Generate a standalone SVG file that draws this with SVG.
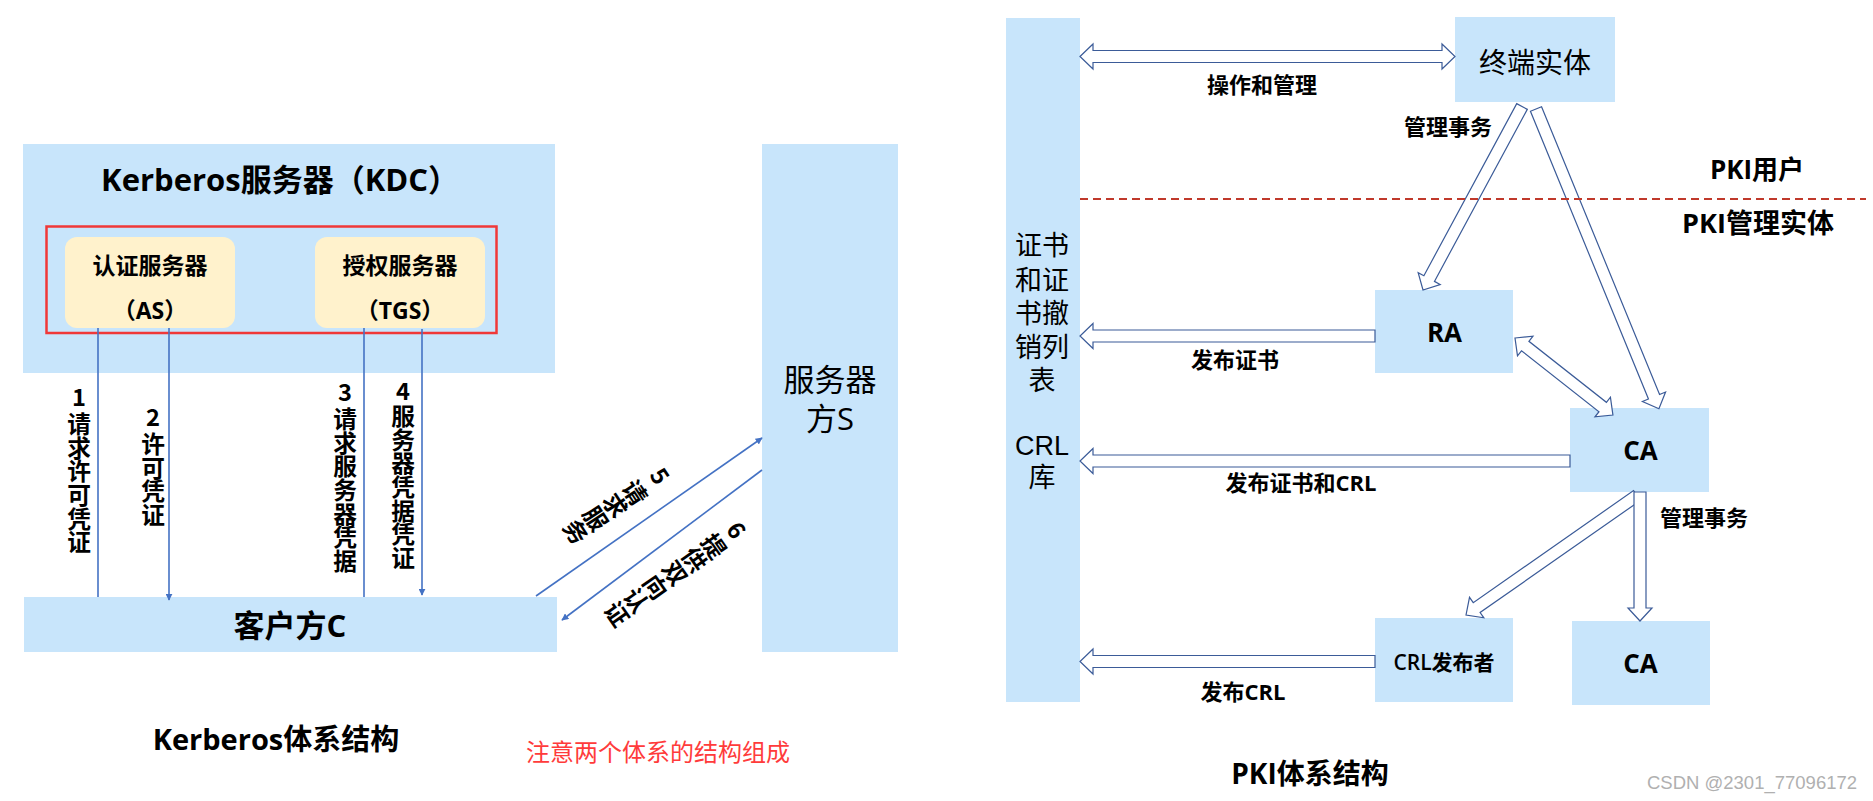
<svg xmlns="http://www.w3.org/2000/svg" width="1873" height="801" viewBox="0 0 1873 801">
<defs>
<style>
.box{fill:#c8e5fb;}
.sub{fill:#fff2cc;}
.t{font-family:"Open Sans","Noto Sans CJK SC",sans-serif;fill:#000;}
.r{font-family:"Liberation Sans","Noto Sans CJK SC",sans-serif;fill:#000;}
.b{font-weight:bold;}
.c{text-anchor:middle;}
.vl{font-family:"Noto Sans CJK SC","Open Sans",sans-serif;font-weight:bold;font-size:23.7px;writing-mode:vertical-rl;text-orientation:upright;}
.ln{stroke:#4472c4;stroke-width:1.6;fill:none;}
.ha{fill:#fff;stroke:#3b5b98;stroke-width:1.2;stroke-linejoin:miter;}
</style>
<marker id="ah" viewBox="0 0 10 10" refX="9" refY="5" markerWidth="7" markerHeight="7" markerUnits="userSpaceOnUse" orient="auto">
<path d="M0,0 L10,5 L0,10 Z" fill="#4472c4"/>
</marker>
</defs>
<rect width="1873" height="801" fill="#fff"/>

<!-- Kerberos side -->
<g id="kdc">
<rect class="box" x="23" y="144" width="532" height="229"/>
<text class="t b c" x="280" y="191" font-size="31">Kerberos服务器（KDC）</text>
<rect x="46.5" y="226.5" width="450" height="106.5" fill="none" stroke="#f03838" stroke-width="2.5"/>
</g>
<g id="as">
<rect class="sub" x="65" y="237" width="170" height="91" rx="12"/>
<text class="t b c" x="150" y="274" font-size="23">认证服务器</text>
<text class="t b c" x="150" y="319" font-size="23">（AS）</text>
</g>
<g id="tgs">
<rect class="sub" x="315" y="237" width="170" height="91" rx="12"/>
<text class="t b c" x="400" y="274" font-size="23">授权服务器</text>
<text class="t b c" x="400" y="319" font-size="23">（TGS）</text>
</g>
<g id="client">
<rect class="box" x="24" y="597" width="533" height="55"/>
<text class="t b c" x="290" y="637" font-size="31">客户方C</text>
</g>
<g id="server">
<rect class="box" x="762" y="144" width="136" height="508"/>
<text class="t c" x="830" y="391" font-size="31">服务器</text>
<text class="t c" x="830" y="430" font-size="31">方S</text>
</g>

<g id="kerberos-connectors">
<line class="ln" x1="98" y1="328" x2="98" y2="597"/>
<line class="ln" x1="169" y1="328" x2="169" y2="600" marker-end="url(#ah)"/>
<line class="ln" x1="364" y1="328" x2="364" y2="597"/>
<line class="ln" x1="422" y1="329" x2="422" y2="595" marker-end="url(#ah)"/>
<line class="ln" x1="536" y1="596" x2="762" y2="438" marker-end="url(#ah)"/>
<line class="ln" x1="762" y1="470" x2="562" y2="620" marker-end="url(#ah)"/>
</g>

<g id="kerberos-labels">
<text class="vl" x="79" y="385">1</text>
<text class="vl" x="79" y="412">请求许可凭证</text>
<text class="vl" x="153" y="404.7">2</text>
<text class="vl" x="153" y="432">许可凭证</text>
<text class="vl" x="345" y="380">3</text>
<text class="vl" x="345" y="407">请求服务器凭据</text>
<text class="vl" x="403" y="378.7">4</text>
<text class="vl" x="403" y="404">服务器凭据凭证</text>
<g transform="translate(660,476) rotate(56.6)">
<text class="vl" x="0" y="-11.85">5</text>
<text class="vl" x="0" y="18">请求服务</text>
</g>
<g transform="translate(736.7,530) rotate(55)">
<text class="vl" x="0" y="-11.85">6</text>
<text class="vl" x="0" y="16">提供双向认证</text>
</g>
</g>

<text class="t b c" x="276" y="750" font-size="29">Kerberos体系结构</text>
<text class="t c" x="658" y="761" font-size="24" style="fill:#ff3b3b">注意两个体系的结构组成</text>

<!-- PKI side -->
<g id="repository">
<rect class="box" x="1006" y="18" width="74" height="684"/>
<g class="r c" font-size="27">
<text x="1042" y="255">证书</text>
<text x="1042" y="290">和证</text>
<text x="1042" y="323">书撤</text>
<text x="1042" y="357">销列</text>
<text x="1042" y="390">表</text>
<text x="1042" y="455">CRL</text>
<text x="1042" y="487">库</text>
</g>
</g>
<g id="end-entity">
<rect class="box" x="1455" y="17" width="160" height="85"/>
<text class="t c" x="1535" y="73" font-size="28">终端实体</text>
</g>
<g id="ra">
<rect class="box" x="1375" y="290" width="138" height="83"/>
<text class="t b c" x="1444.5" y="342" font-size="26">RA</text>
</g>
<g id="ca">
<rect class="box" x="1570" y="408" width="139" height="84"/>
<text class="t b c" x="1640.5" y="460" font-size="26">CA</text>
</g>
<g id="crl-publisher">
<rect class="box" x="1375" y="618" width="138" height="84"/>
<text class="t c" x="1444" y="670" font-size="21" font-weight="600">CRL发布者</text>
</g>
<g id="ca2">
<rect class="box" x="1572" y="621" width="138" height="84"/>
<text class="t b c" x="1640.5" y="673" font-size="26">CA</text>
</g>

<g id="pki-connectors">
<path class="ha" transform="translate(1080,56.5)" d="M0,0 L13,-12.5 L13,-6 L362,-6 L362,-12.5 L375,0 L362,12.5 L362,6 L13,6 L13,12.5 Z"/>
<path class="ha" transform="translate(1522,106.5) rotate(118.35)" d="M0,-6 L195.5,-6 L195.5,-12.5 L208.5,0 L195.5,12.5 L195.5,6 L0,6 Z"/>
<path class="ha" transform="translate(1536,109) rotate(67.7)" d="M0,-6 L311,-6 L311,-12.5 L324,0 L311,12.5 L311,6 L0,6 Z"/>
<path class="ha" transform="translate(1515,338) rotate(38.2)" d="M0,0 L13,-12.5 L13,-6 L111.6,-6 L111.6,-12.5 L124.6,0 L111.6,12.5 L111.6,6 L13,6 L13,12.5 Z"/>
<path class="ha" transform="translate(1637,495.5) rotate(145.05)" d="M0,-6 L195.6,-6 L195.6,-12.5 L208.6,0 L195.6,12.5 L195.6,6 L0,6 Z"/>
<path class="ha" transform="translate(1640,492) rotate(90)" d="M0,-6 L116,-6 L116,-12 L129,0 L116,12 L116,6 L0,6 Z"/>
<path class="ha" transform="translate(1375,336) rotate(180)" d="M0,-6 L282,-6 L282,-12.5 L295,0 L282,12.5 L282,6 L0,6 Z"/>
<path class="ha" transform="translate(1570,461) rotate(180)" d="M0,-6 L477,-6 L477,-12.5 L490,0 L477,12.5 L477,6 L0,6 Z"/>
<path class="ha" transform="translate(1375,661.5) rotate(180)" d="M0,-6 L282,-6 L282,-12.5 L295,0 L282,12.5 L282,6 L0,6 Z"/>
<line x1="1080" y1="199" x2="1866" y2="199" stroke="#c0392b" stroke-width="2" stroke-dasharray="8,5"/>
</g>

<g id="pki-labels" class="t b c" font-size="22">
<text x="1262" y="93">操作和管理</text>
<text x="1448" y="135">管理事务</text>
<text x="1235" y="368">发布证书</text>
<text x="1301" y="491">发布证书和CRL</text>
<text x="1704" y="526">管理事务</text>
<text x="1243" y="700">发布CRL</text>
<text x="1757" y="179" font-size="26">PKI用户</text>
<text x="1758" y="233" font-size="27">PKI管理实体</text>
</g>
<text class="t b c" x="1310" y="784" font-size="28">PKI体系结构</text>
<text x="1752" y="789" font-family="Liberation Sans, sans-serif" font-size="18.5" fill="#b0b0b0" text-anchor="middle">CSDN @2301_77096172</text>
</svg>
